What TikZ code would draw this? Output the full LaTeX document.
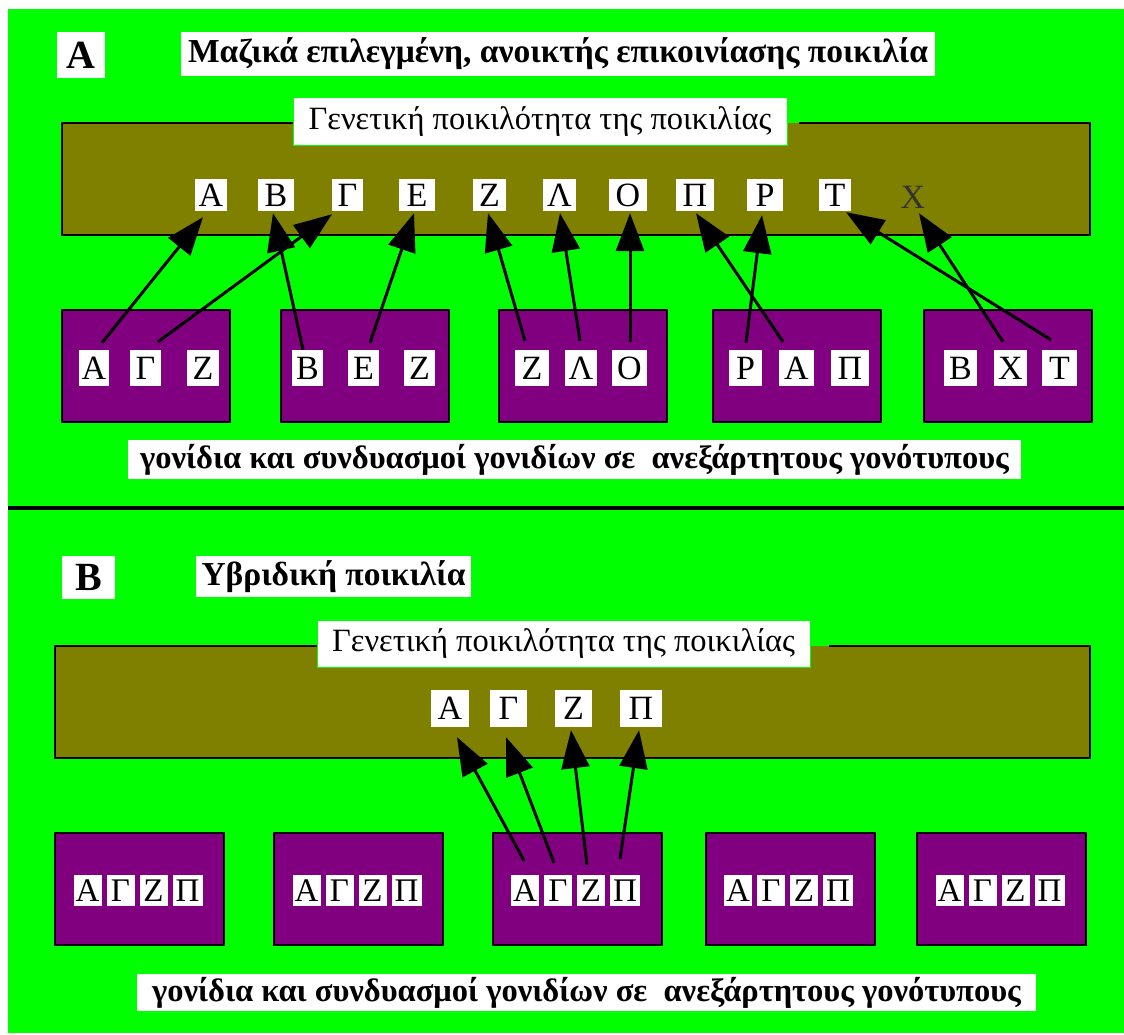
\documentclass[tikz,border=0pt]{standalone}
\usepackage{fontspec}
\setmainfont{Liberation Serif}
\usetikzlibrary{arrows.meta}
\definecolor{bg}{HTML}{00FF00}
\definecolor{olivebar}{HTML}{808000}
\definecolor{purp}{HTML}{800080}
\begin{document}
\begin{tikzpicture}[x=1pt,y=-1pt,
  ltr/.style={fill=white, inner sep=0pt, minimum height=32pt, font=\fontsize{34}{34}\selectfont},
  sltr/.style={fill=white, inner sep=0pt, minimum width=28pt, minimum height=31pt, font=\fontsize{33}{33}\selectfont},
  titlebox/.style={fill=white, inner sep=0pt, font=\bfseries\fontsize{33.5}{33.5}\selectfont},
  bigletter/.style={fill=white, inner sep=0pt, font=\bfseries\fontsize{40}{40}\selectfont},
  genlabel/.style={fill=white, draw=bg, line width=1pt, inner sep=0pt, font=\fontsize{32.5}{32.5}\selectfont},
  bottomtext/.style={fill=white, inner sep=0pt, font=\bfseries\fontsize{32.5}{32.5}\selectfont},
  purpbox/.style={fill=purp, draw=black, line width=2pt, inner sep=0pt, minimum width=168pt, minimum height=112pt},
  frame/.style={line width=2pt},
  arr/.style={line width=3pt, -{Triangle[length=38pt,width=28pt]}}]
\useasboundingbox (0,0) rectangle (1124,1035);
\fill[white] (0,0) rectangle (1124,1035);
\fill[bg] (8,9) rectangle (1124,1033);
\draw[line width=4pt] (8,508) -- (1124,508);

% ================= Panel A =================
\node[bigletter, minimum width=48pt, minimum height=46pt] (labA) at (81,55) {Α};
\node[titlebox, minimum width=754pt, minimum height=44pt] (titA) at (558,54) {Μαζικά επιλεγμένη, ανοικτής επικοινίασης ποικιλία};

\fill[olivebar] (62,123) rectangle (1090,235);
\draw[frame] (293,123) -- (62,123) -- (62,235) -- (1090,235) -- (1090,123) -- (799,123);
\node[genlabel, minimum width=494pt, minimum height=48pt] (genA) at (540,122) {Γενετική ποικιλότητα της ποικιλίας};

\node[ltr, minimum width=32pt] (uA) at (211,195) {Α};
\node[ltr, minimum width=36pt] (uB) at (276,195) {Β};
\node[ltr, minimum width=31pt] (uG) at (347.5,195) {Γ};
\node[ltr, minimum width=36pt] (uE) at (417,195) {Ε};
\node[ltr, minimum width=33pt] (uZ) at (489.5,195) {Ζ};
\node[ltr, minimum width=33pt] (uL) at (559.5,195) {Λ};
\node[ltr, minimum width=38pt] (uO) at (628,195) {Ο};
\node[ltr, minimum width=38pt] (uP) at (695,195) {Π};
\node[ltr, minimum width=36pt] (uR) at (765,195) {Ρ};
\node[ltr, minimum width=32pt] (uT) at (835,195) {Τ};
\node[inner sep=0pt, minimum width=32pt, minimum height=32pt, text=black!80, font=\fontsize{34}{34}\selectfont] (uX) at (913,197) {Χ};

\node[purpbox] (pA1) at (146,366) {};
\node[purpbox] (pA2) at (364.5,366) {};
\node[purpbox] (pA3) at (583,366) {};
\node[purpbox] (pA4) at (796.5,366) {};
\node[purpbox] (pA5) at (1008,366) {};

\node[ltr, minimum width=30pt, minimum height=36pt] (lA1) at (94,368) {Α};
\node[ltr, minimum width=31pt, minimum height=36pt] (lG1) at (145.5,368) {Γ};
\node[ltr, minimum width=32pt, minimum height=36pt] (lZ1) at (203,368) {Ζ};
\node[ltr, minimum width=31pt, minimum height=36pt] (lB2) at (307.5,368) {Β};
\node[ltr, minimum width=31pt, minimum height=36pt] (lE2) at (363.5,368) {Ε};
\node[ltr, minimum width=31pt, minimum height=36pt] (lZ2) at (419.5,368) {Ζ};
\node[ltr, minimum width=34pt, minimum height=36pt] (lZ3) at (532,368) {Ζ};
\node[ltr, minimum width=32pt, minimum height=36pt] (lL3) at (581,368) {Λ};
\node[ltr, minimum width=35pt, minimum height=36pt] (lO3) at (629.5,368) {Ο};
\node[ltr, minimum width=33pt, minimum height=36pt] (lR4) at (745.5,368) {Ρ};
\node[ltr, minimum width=35pt, minimum height=36pt] (lA4) at (796.5,368) {Α};
\node[ltr, minimum width=38pt, minimum height=36pt] (lP4) at (850,368) {Π};
\node[ltr, minimum width=33pt, minimum height=36pt] (lB5) at (960.5,368) {Β};
\node[ltr, minimum width=33pt, minimum height=36pt] (lX5) at (1010.5,368) {Χ};
\node[ltr, minimum width=35pt, minimum height=36pt] (lT5) at (1059.5,368) {Τ};

\draw[arr] ([xshift=8pt,yshift=7pt]lA1.north) -- ([xshift=-8pt,yshift=-6pt]uA.south);
\draw[arr] ([xshift=12.5pt,yshift=8pt]lG1.north) -- ([xshift=-15.5pt,yshift=-3pt]uG.south);
\draw[arr] ([xshift=-4.5pt,yshift=0pt]lB2.north) -- ([xshift=-3pt,yshift=-2pt]uB.south);
\draw[arr] ([xshift=6.5pt,yshift=7pt]lE2.north) -- ([xshift=-3pt,yshift=-2pt]uE.south);
\draw[arr] ([xshift=-7pt,yshift=9pt]lZ3.north) -- ([xshift=-1.5pt,yshift=-2pt]uZ.south);
\draw[arr] ([xshift=-1pt,yshift=9pt]lL3.north) -- ([xshift=0.5pt,yshift=-2pt]uL.south);
\draw[arr] ([xshift=0.5pt,yshift=8pt]lO3.north) -- ([xshift=2pt,yshift=-2pt]uO.south);
\draw[arr] ([xshift=0.5pt,yshift=7pt]lR4.north) -- ([xshift=-3pt,yshift=-4pt]uR.south);
\draw[arr] ([xshift=-13.5pt,yshift=8pt]lA4.north) -- ([xshift=1pt,yshift=-2pt]uP.south);
\draw[arr] ([xshift=-7.5pt,yshift=8pt]lX5.north) -- ([xshift=6pt,yshift=0pt]uX.south);
\draw[arr] ([xshift=-8.5pt,yshift=10pt]lT5.north) -- ([xshift=11pt,yshift=-1pt]uT.south);

\node[bottomtext, minimum width=893pt, minimum height=39pt] (botA) at (574.5,459.5) {γονίδια και συνδυασμοί γονιδίων σε\ \ ανεξάρτητους γονότυπους};

% ================= Panel B =================
\node[bigletter, minimum width=53pt, minimum height=43pt] (labB) at (88.5,577.5) {Β};
\node[titlebox, minimum width=275pt, minimum height=41pt] (titB) at (333.5,576.5) {Υβριδική ποικιλία};

\fill[olivebar] (55,646) rectangle (1090,758);
\draw[frame] (317,646) -- (55,646) -- (55,758) -- (1090,758) -- (1090,646) -- (829,646);
\node[genlabel, minimum width=493pt, minimum height=47pt] (genB) at (563.5,643.5) {Γενετική ποικιλότητα της ποικιλίας};

\node[ltr, minimum width=38pt, minimum height=37pt] (vA) at (450,708.5) {Α};
\node[ltr, minimum width=37pt, minimum height=37pt] (vG) at (508.5,708.5) {Γ};
\node[ltr, minimum width=37pt, minimum height=37pt] (vZ) at (573.5,708.5) {Ζ};
\node[ltr, minimum width=42pt, minimum height=37pt] (vP) at (641,708.5) {Π};

\foreach \i/\cx in {1/139.5,2/358.5,3/577,4/790,5/1001.5} {
  \node[purpbox, minimum width=169pt] (pB\i) at (\cx,889) {};
  \node[sltr] (b\i a) at (\cx-52,890.5) {Α};
  \node[sltr] (b\i g) at (\cx-19,890.5) {Γ};
  \node[sltr] (b\i z) at (\cx+14,890.5) {Ζ};
  \node[sltr, minimum width=30pt] (b\i p) at (\cx+48,890.5) {Π};
}

\draw[arr] ([xshift=-1pt,yshift=14pt]b3a.north) -- ([xshift=7pt,yshift=-10pt]vA.south);
\draw[arr] ([xshift=-4pt,yshift=12pt]b3g.north) -- ([xshift=-2.5pt,yshift=-10pt]vG.south);
\draw[arr] ([xshift=-4pt,yshift=10pt]b3z.north) -- ([xshift=-2.5pt,yshift=-3pt]vZ.south);
\draw[arr] ([xshift=-5pt,yshift=16pt]b3p.north) -- ([xshift=-2pt,yshift=-3pt]vP.south);

\node[bottomtext, minimum width=899pt, minimum height=37pt] (botB) at (586.5,992.5) {γονίδια και συνδυασμοί γονιδίων σε\ \ ανεξάρτητους γονότυπους};
\end{tikzpicture}
\end{document}
